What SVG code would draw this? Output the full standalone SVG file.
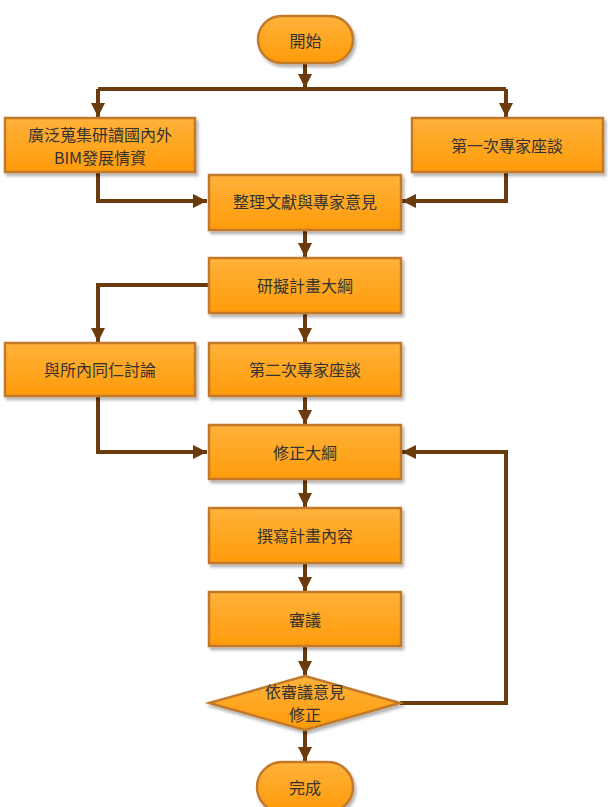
<svg xmlns="http://www.w3.org/2000/svg" width="608" height="807" viewBox="0 0 608 807">
<defs>
<linearGradient id="g" x1="0" y1="0" x2="0" y2="1">
<stop offset="0" stop-color="#FFB23A"/>
<stop offset="1" stop-color="#FF9B0A"/>
</linearGradient>
<filter id="sh" x="-10%" y="-10%" width="130%" height="140%">
<feGaussianBlur in="SourceAlpha" stdDeviation="1.5"/>
<feOffset dx="2" dy="3" result="b"/>
<feComponentTransfer><feFuncA type="linear" slope="0.3"/></feComponentTransfer>
<feMerge><feMergeNode/><feMergeNode in="SourceGraphic"/></feMerge>
</filter>
<marker id="ah" viewBox="0 0 10 10" refX="10" refY="5" markerWidth="3.8" markerHeight="3.5" markerUnits="strokeWidth" orient="auto">
<path d="M0,0 L10,5 L0,10 Z" fill="#6B3B0E"/>
</marker>
<style>
.n{fill:url(#g);stroke:#C27A2C;stroke-width:2.5;filter:url(#sh)}
.t{font-family:"Noto Sans CJK TC","Noto Sans CJK SC",sans-serif;font-size:16px;fill:#333333;text-anchor:middle;dominant-baseline:central}
.c{fill:none;stroke:#6B3B0E;stroke-width:4;stroke-linejoin:miter}
.a{marker-end:url(#ah)}
</style>
</defs>
<rect width="608" height="807" fill="#ffffff"/>
<g id="connectors">
<path class="c a" d="M305,64 V88"/>
<path class="c" d="M305,89 H98 M305,89 H506"/>
<path class="c a" d="M98,89 V117"/>
<path class="c a" d="M506,89 V117"/>
<path class="c a" d="M98,172 V201 H207"/>
<path class="c a" d="M506,172 V201 H402"/>
<path class="c a" d="M305,230 V257"/>
<path class="c a" d="M208,285 H98 V342"/>
<path class="c a" d="M305,313 V342"/>
<path class="c a" d="M98,396 V452 H207"/>
<path class="c a" d="M305,396 V424"/>
<path class="c a" d="M400,703 H506 V452 H402"/>
<path class="c a" d="M305,479 V507"/>
<path class="c a" d="M305,563 V591"/>
<path class="c a" d="M305,646 V675"/>
<path class="c a" d="M305,730 V761"/>
</g>
<g id="start">
<rect class="n" x="258" y="16" width="95" height="47" rx="23.5"/>
<text class="t" x="305.5" y="39.5">開始</text>
</g>
<g id="collect">
<rect class="n" x="5" y="118" width="190" height="54"/>
<text class="t" x="100" y="134">廣泛蒐集研讀國內外</text>
<text class="t" x="100" y="157">BIM發展情資</text>
</g>
<g id="expert1">
<rect class="n" x="412" y="118" width="191" height="54"/>
<text class="t" x="507" y="145">第一次專家座談</text>
</g>
<g id="organize">
<rect class="n" x="209" y="175" width="192" height="55"/>
<text class="t" x="305" y="201">整理文獻與專家意見</text>
</g>
<g id="draft">
<rect class="n" x="209" y="258" width="192" height="55"/>
<text class="t" x="305" y="285">研擬計畫大綱</text>
</g>
<g id="discuss">
<rect class="n" x="5" y="343" width="190" height="53"/>
<text class="t" x="100" y="369">與所內同仁討論</text>
</g>
<g id="expert2">
<rect class="n" x="209" y="343" width="192" height="53"/>
<text class="t" x="305" y="369">第二次專家座談</text>
</g>
<g id="revise">
<rect class="n" x="209" y="425" width="192" height="54"/>
<text class="t" x="305" y="452">修正大綱</text>
</g>
<g id="write">
<rect class="n" x="209" y="508" width="192" height="55"/>
<text class="t" x="305" y="535">撰寫計畫內容</text>
</g>
<g id="review">
<rect class="n" x="209" y="592" width="192" height="54"/>
<text class="t" x="305" y="619">審議</text>
</g>
<g id="decision">
<polygon class="n" points="305,676 400,703 305,730 209,703"/>
<text class="t" x="305" y="691">依審議意見</text>
<text class="t" x="305" y="714">修正</text>
</g>
<g id="end">
<rect class="n" x="257" y="762" width="96" height="50" rx="25"/>
<text class="t" x="305" y="787">完成</text>
</g>
</svg>
